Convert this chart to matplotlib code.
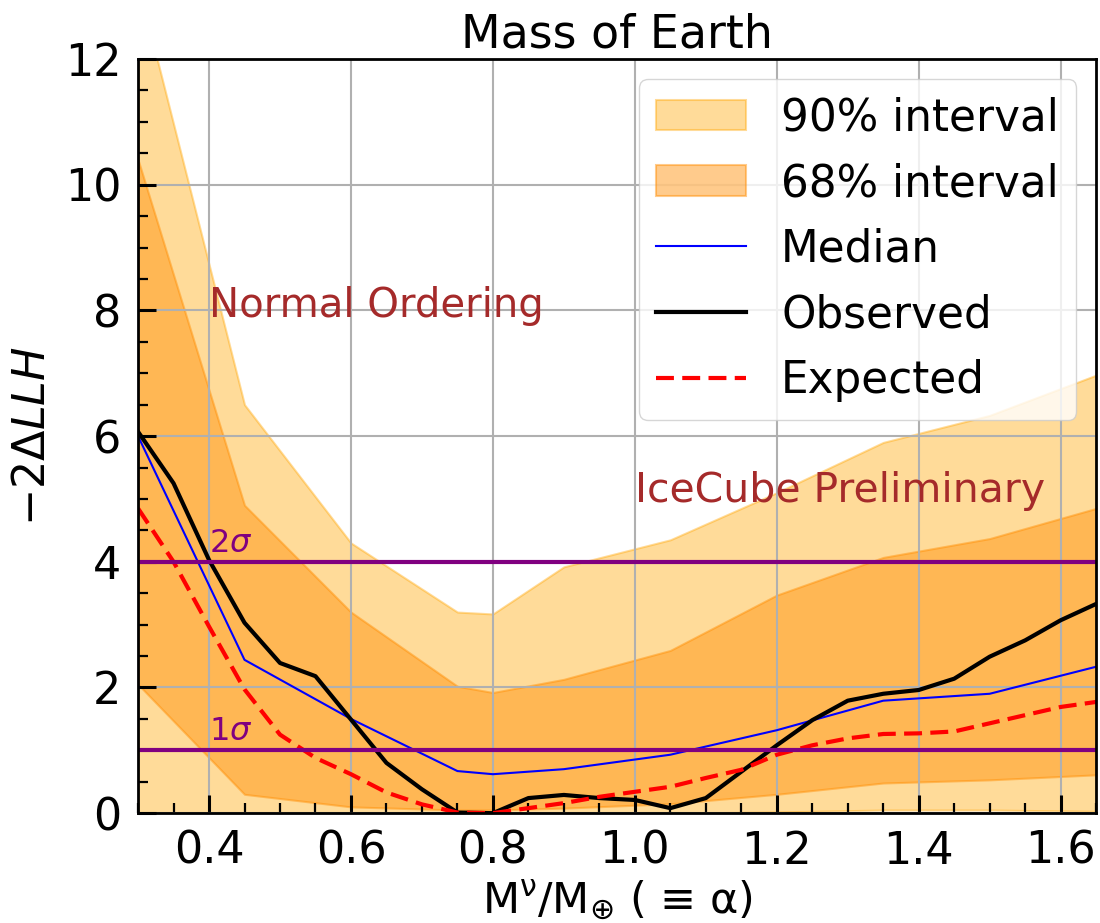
import numpy as np
import matplotlib
matplotlib.use("Agg")
import matplotlib.pyplot as plt
from matplotlib.ticker import MultipleLocator

# Band / median grid
x_band = [0.30, 0.45, 0.60, 0.75, 0.80, 0.90, 1.05, 1.20, 1.35, 1.50, 1.65]
band90_lo = [0.00, 0.00, 0.00, 0.00, 0.00, 0.00, 0.00, 0.02, 0.05, 0.05, 0.03]
band90_hi = [13.2, 6.50, 4.30, 3.20, 3.17, 3.92, 4.35, 5.10, 5.90, 6.33, 6.97]
band68_lo = [2.05, 0.30, 0.10, 0.05, 0.05, 0.08, 0.15, 0.30, 0.48, 0.53, 0.61]
band68_hi = [10.4, 4.90, 3.20, 2.02, 1.92, 2.13, 2.59, 3.47, 4.07, 4.37, 4.85]
median = [6.00, 2.44, 1.50, 0.67, 0.62, 0.70, 0.93, 1.32, 1.79, 1.90, 2.33]

# Observed / expected grid
x_fine = [0.30, 0.35, 0.40, 0.45, 0.50, 0.55, 0.60, 0.65, 0.70, 0.75, 0.80,
          0.85, 0.90, 0.95, 1.00, 1.05, 1.10, 1.15, 1.20, 1.25, 1.30, 1.35,
          1.40, 1.45, 1.50, 1.55, 1.60, 1.65]
observed = [6.07, 5.25, 4.03, 3.03, 2.39, 2.18, 1.49, 0.80, 0.38, 0.01, 0.00,
            0.24, 0.29, 0.24, 0.21, 0.08, 0.24, 0.66, 1.08, 1.48, 1.79, 1.90,
            1.96, 2.14, 2.49, 2.75, 3.07, 3.33]
expected = [4.85, 4.00, 2.97, 1.97, 1.25, 0.88, 0.62, 0.33, 0.14, 0.01, 0.00,
            0.08, 0.16, 0.26, 0.34, 0.42, 0.56, 0.69, 0.93, 1.08, 1.19, 1.26,
            1.27, 1.30, 1.43, 1.56, 1.69, 1.77]

sigma_levels = [4, 1]
sigma_labels = [r"$2\sigma$", r"$1\sigma$"]

fig = plt.figure(figsize=(11, 9.23), dpi=100)
ax = fig.add_axes([0.1255, 0.119, 0.871, 0.817])

ax.fill_between(x_band, band90_lo, band90_hi, color="orange", alpha=0.4,
                label="90% interval", lw=1.5)
ax.fill_between(x_band, band68_lo, band68_hi, color="darkorange", alpha=0.45,
                label="68% interval", lw=1.5)
ax.plot(x_band, median, color="blue", lw=1.5, label="Median")
ax.plot(x_fine, observed, color="black", lw=3, label="Observed")
ax.plot(x_fine, expected, color="red", lw=3, ls=(0, (4.3, 2)), label="Expected")

for lvl, lab in zip(sigma_levels, sigma_labels):
    ax.axhline(lvl, color="purple", lw=3)
    ax.text(0.4, lvl + 0.05, lab, color="purple", fontsize=23,
            ha="left", va="bottom")

ax.text(0.4, 7.9, "Normal Ordering", color="brown", fontsize=29,
        ha="left", va="baseline")
ax.text(1.0, 4.95, "IceCube Preliminary", color="brown", fontsize=29.5,
        ha="left", va="baseline")

ax.set_xlim(0.3, 1.65)
ax.set_ylim(0, 12)
ax.xaxis.set_major_locator(MultipleLocator(0.2))
ax.xaxis.set_minor_locator(MultipleLocator(0.05))
ax.yaxis.set_major_locator(MultipleLocator(2))
ax.yaxis.set_minor_locator(MultipleLocator(0.5))
ax.tick_params(which="major", direction="in", length=13, width=2.2,
               labelsize=32, pad=12)
ax.tick_params(which="minor", direction="in", length=7, width=1.6)
ax.grid(True, which="major", color="#b0b0b0", lw=1.5)
ax.set_axisbelow("line")
for s in ax.spines.values():
    s.set_linewidth(2)

ax.set_title("Mass of Earth", fontsize=33, pad=8)
ax.set_ylabel(r"$-2\Delta LLH$", fontsize=32, labelpad=8)
ax.set_xlabel(r"$\mathregular{M^{ν}/M_{⊕}}$ ( ≡ α)", fontsize=31, labelpad=4)

leg = ax.legend(loc="upper right", fontsize=31.5, framealpha=0.8,
                handlelength=2.05, borderpad=0.4, labelspacing=0.52,
                borderaxespad=0.45)

fig.savefig("out.png", dpi=100)
